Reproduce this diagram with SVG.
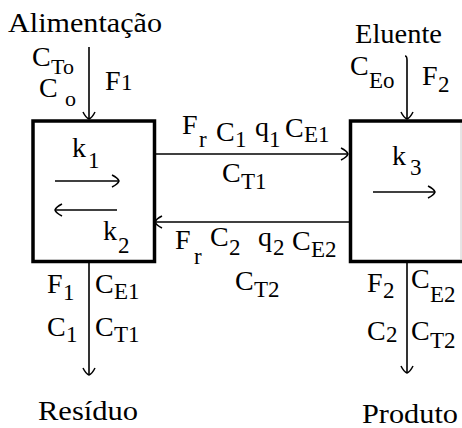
<svg xmlns="http://www.w3.org/2000/svg" width="462" height="428" viewBox="0 0 462 428">
<style>
.ln{stroke:#000;stroke-width:1.6;fill:none}
.box{stroke:#000;stroke-width:3.5;fill:#fff}
</style>
<defs>
<marker id="ah" viewBox="-9 -7 11 14" refX="0" refY="0" markerWidth="11" markerHeight="14" markerUnits="userSpaceOnUse" orient="auto">
<path d="M-7,-6 Q-1,-3 0,0 Q-1,3 -7,6" fill="none" stroke="#000" stroke-width="1.5"/>
</marker>
</defs>
<rect width="462" height="428" fill="#fff"/>
<g font-family="Liberation Serif, serif" font-size="28" fill="#000">
<g id="reactor1">
<rect class="box" x="33" y="121" width="121.5" height="140.5"/>
<text x="72" y="157">k</text><text font-size="23" x="88" y="168">1</text>
<text x="103" y="240">k</text><text font-size="23" x="118" y="253">2</text>
</g>
<g id="reactor2">
<path d="M463,121 H350.5 V261.5 H463" fill="#fff" stroke="#000" stroke-width="3.5"/>
<line x1="461" y1="123" x2="461" y2="260" stroke="#ccc" stroke-width="1"/>
<text x="392" y="165">k</text><text font-size="23" x="410" y="175">3</text>
</g>
<g id="connectors">
<path class="ln" d="M89,47 V119" marker-end="url(#ah)"/>
<path class="ln" d="M405,56 Q407,56 407,60 V119" marker-end="url(#ah)"/>
<path class="ln" d="M156,154 H348" marker-end="url(#ah)"/>
<path class="ln" d="M349,222 H155" marker-end="url(#ah)"/>
<path class="ln" d="M55,181 H119" marker-end="url(#ah)"/>
<path class="ln" d="M117,210 H55" marker-end="url(#ah)"/>
<path class="ln" d="M373,192 H435" marker-end="url(#ah)"/>
<path class="ln" d="M89,263 V375" marker-end="url(#ah)"/>
<path class="ln" d="M407,263 V373" marker-end="url(#ah)"/>
</g>
<g id="feed">
<text x="8" y="32" textLength="154" lengthAdjust="spacingAndGlyphs">Alimentação</text>
<text x="32" y="66">C</text><text font-size="22" x="51" y="74">To</text>
<text x="39" y="97">C</text><text font-size="22" x="65" y="106">o</text>
<text x="105" y="90">F</text><text font-size="23" x="121" y="90">1</text>
</g>
<g id="eluent">
<text x="355" y="43" textLength="87" lengthAdjust="spacingAndGlyphs">Eluente</text>
<text x="350" y="75">C</text><text font-size="23" x="369" y="88">Eo</text>
<text x="422" y="85">F</text><text font-size="23" x="438" y="92">2</text>
</g>
<g id="flow12">
<text x="182" y="134">F</text><text font-size="23" x="199" y="147">r</text>
<text x="216" y="141">C</text><text font-size="23" x="235" y="147">1</text>
<text x="255" y="136">q</text><text font-size="23" x="269" y="147">1</text>
<text x="285" y="137">C</text><text font-size="23" x="304" y="142">E1</text>
<text x="222" y="182">C</text><text font-size="23" x="241" y="189">T1</text>
</g>
<g id="flow21">
<text x="175" y="249">F</text><text font-size="23" x="194" y="264">r</text>
<text x="210" y="246">C</text><text font-size="23" x="229" y="255">2</text>
<text x="258" y="246">q</text><text font-size="23" x="273" y="255">2</text>
<text x="292" y="250">C</text><text font-size="23" x="311" y="257">E2</text>
<text x="235" y="290">C</text><text font-size="23" x="254" y="297">T2</text>
</g>
<g id="residue">
<text x="47" y="293">F</text><text font-size="23" x="63" y="300">1</text>
<text x="95" y="293">C</text><text font-size="23" x="114" y="299">E1</text>
<text x="47" y="336">C</text><text font-size="23" x="66" y="342">1</text>
<text x="95" y="336">C</text><text font-size="23" x="114" y="342">T1</text>
<text x="38" y="420" textLength="100" lengthAdjust="spacingAndGlyphs">Resíduo</text>
</g>
<g id="product">
<text x="367" y="292">F</text><text font-size="23" x="383" y="298">2</text>
<text x="411" y="288">C</text><text font-size="23" x="430" y="302">E2</text>
<text x="367" y="340">C</text><text font-size="23" x="386" y="342">2</text>
<text x="411" y="340">C</text><text font-size="23" x="430" y="348">T2</text>
<text x="362" y="423" textLength="96" lengthAdjust="spacingAndGlyphs">Produto</text>
</g>
</g>
</svg>
